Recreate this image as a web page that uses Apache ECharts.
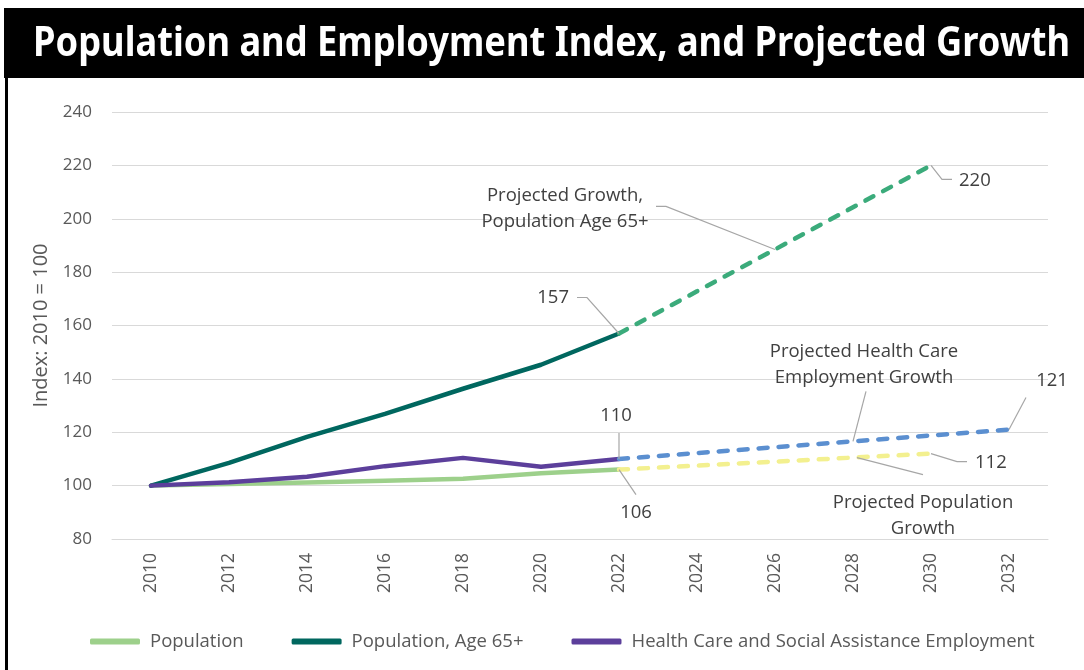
<!DOCTYPE html>
<html>
<head>
<meta charset="utf-8">
<script src="https://cdn.jsdelivr.net/npm/echarts@6/dist/echarts.min.js"></script>
<style>
  html, body { margin: 0; padding: 0; background: #ffffff; }
  #chart { width: 1084px; height: 670px; }
</style>
</head>
<body>
<div id="chart"></div>
<script>
// Years on the horizontal axis (every second year)
const years = ['2010', '2012', '2014', '2016', '2018', '2020', '2022', '2024', '2026', '2028', '2030', '2032'];

// Actual index values, 2010 = 100
const population   = [100, 100.6, 101.2, 101.8, 102.6, 104.6, 106, null, null, null, null, null];
const populationAge65 = [100, 108.5, 118.3, 126.9, 136.3, 145.3, 157, null, null, null, null, null];
const healthCareEmployment = [100, 101.3, 103.3, 107.3, 110.4, 107.1, 110, null, null, null, null, null];

// Projections starting from the 2022 values
const projectedPopulation = [null, null, null, null, null, null, 106, 107.5, 109, 110.5, 112, null];
const projectedAge65      = [null, null, null, null, null, null, 157, 172.8, 188.5, 204.3, 220, null];
const projectedHealthCare = [null, null, null, null, null, null, 110, 112.2, 114.4, 116.6, 118.8, 121];

// Y axis ticks
const yMin = 80, yMax = 240, yStep = 20;

const titleText = 'Population and Employment Index, and Projected Growth';
const legendNames = ['Population', 'Population, Age 65+', 'Health Care and Social Assistance Employment'];

const textFont = '"Open Sans"';
const axisGrey = '#595959';
const noteGrey = '#404040';
const leaderGrey = '#a6a6a6';

// Callouts: anchored on a data value, leader line and text placed by pixel offsets
const callouts = [
  { series: projectedAge65, idx: 6,  text: '157', pts: [[0, 0], [-32, -36], [-42, -36]], tx: -50, ty: -36, align: 'right' },
  { series: projectedAge65, idx: 10, text: '220', pts: [[0, 0], [11, 14], [21, 14]], tx: 28, ty: 15, align: 'left' },
  { series: projectedHealthCare, idx: 6, text: '110', pts: [[0, 0], [0, -26]], tx: -3, ty: -43, align: 'center' },
  { series: projectedPopulation, idx: 6, text: '106', pts: [[0, 0], [17, 25]], tx: 17, ty: 43, align: 'center' },
  { series: projectedPopulation, idx: 10, text: '112', pts: [[0, 0], [26, 8], [36, 8]], tx: 44, ty: 9, align: 'left' },
  { series: projectedHealthCare, idx: 11, text: '121', pts: [[0, 0], [17, -32]], tx: 43, ty: -49, align: 'center' },
  { series: projectedAge65, idx: 8, text: 'Projected Growth,\nPopulation Age 65+', pts: [[0, 0], [-109, -43], [-119, -43]], tx: -210, ty: -41, align: 'center' },
  { series: projectedHealthCare, idx: 9, text: 'Projected Health Care\nEmployment Growth', pts: [[0, 0], [13, -50]], tx: 11, ty: -77, align: 'center' },
  { series: projectedPopulation, idx: 9, text: 'Projected Population\nGrowth', pts: [[4, 0], [70, 17]], tx: 70, ty: 58, align: 'center' }
];
const calloutData = callouts.map((c, i) => [c.idx, c.series[c.idx], i]);

// Fit the heading to the banner width
const measureCtx = document.createElement('canvas').getContext('2d');
const titleFont = 'bold 42px "Noto Sans"';
measureCtx.font = titleFont;
const titleScaleX = 1037 / measureCtx.measureText(titleText).width;

function solidLine(name, data, color) {
  return {
    name: name, type: 'line', data: data, color: color,
    symbol: 'none', connectNulls: false,
    lineStyle: { color: color, width: 4.5, cap: 'round', join: 'round' },
    z: 3
  };
}
function dashedLine(name, data, color) {
  return {
    name: name, type: 'line', data: data, color: color,
    symbol: 'none',
    lineStyle: { color: color, width: 4.5, type: [9, 11], cap: 'round', join: 'round' },
    z: 4
  };
}

const chart = echarts.init(document.getElementById('chart'), null, { renderer: 'canvas' });

chart.setOption({
  backgroundColor: '#ffffff',
  animation: false,
  textStyle: { fontFamily: textFont },
  graphic: [
    { type: 'rect', shape: { x: 4, y: 8, width: 1080, height: 70 }, style: { fill: '#000000' }, z: 0 },
    { type: 'rect', shape: { x: 5, y: 78, width: 3, height: 600 }, style: { fill: '#000000' }, z: 0 },
    {
      type: 'text', x: 33, y: 44, scaleX: titleScaleX, z: 1,
      style: { text: titleText, font: titleFont, fill: '#ffffff', align: 'left', verticalAlign: 'middle' }
    }
  ],
  grid: { left: 112, right: 36, top: 112, bottom: 131 },
  legend: {
    data: legendNames,
    left: 85, top: 627,
    icon: 'roundRect',
    itemWidth: 50, itemHeight: 6, itemGap: 48,
    textStyle: { fontFamily: textFont, fontSize: 18.5, color: axisGrey, padding: [0, 0, 0, 5] }
  },
  xAxis: {
    type: 'category',
    data: years,
    boundaryGap: true,
    axisTick: { show: false },
    axisLine: { show: true, lineStyle: { color: '#d9d9d9', width: 1 } },
    axisLabel: { rotate: 90, margin: 14, fontFamily: textFont, fontSize: 17.5, color: axisGrey }
  },
  yAxis: {
    type: 'value',
    min: yMin, max: yMax, interval: yStep,
    name: 'Index: 2010 = 100',
    nameLocation: 'middle',
    nameGap: 61,
    nameTextStyle: { fontFamily: textFont, fontSize: 20, color: axisGrey },
    axisLine: { show: false },
    axisTick: { show: false },
    splitLine: { lineStyle: { color: '#d9d9d9', width: 1 } },
    axisLabel: { margin: 20, fontFamily: textFont, fontSize: 17, color: axisGrey }
  },
  series: [
    solidLine(legendNames[0], population, '#9dd08b'),
    solidLine(legendNames[1], populationAge65, '#00675f'),
    solidLine(legendNames[2], healthCareEmployment, '#5c3f9b'),
    dashedLine('Projected Population Growth', projectedPopulation, '#f3f08f'),
    dashedLine('Projected Growth, Population Age 65+', projectedAge65, '#3bab7b'),
    dashedLine('Projected Health Care Employment Growth', projectedHealthCare, '#5b8fd0'),
    {
      type: 'custom',
      name: 'callouts',
      data: calloutData,
      encode: { x: 0, y: 1 },
      clip: false,
      silent: true,
      z: 10,
      renderItem: function (params, api) {
        const c = callouts[api.value(2)];
        const p = api.coord([api.value(0), api.value(1)]);
        return {
          type: 'group',
          children: [
            {
              type: 'polyline',
              shape: { points: c.pts.map(q => [p[0] + q[0], p[1] + q[1]]) },
              style: { stroke: leaderGrey, lineWidth: 1.2, fill: null }
            },
            {
              type: 'text',
              style: {
                text: c.text, x: p[0] + c.tx, y: p[1] + c.ty,
                align: c.align, verticalAlign: 'middle',
                font: '18.5px ' + textFont, fill: noteGrey, lineHeight: 26
              }
            }
          ]
        };
      }
    }
  ]
});
</script>
</body>
</html>
